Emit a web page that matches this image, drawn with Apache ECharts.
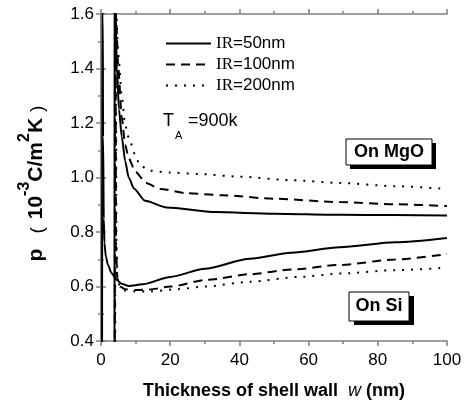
<!DOCTYPE html>
<html>
<head>
<meta charset="utf-8">
<script src="https://cdn.jsdelivr.net/npm/echarts@6/dist/echarts.min.js"></script>
<style>html,body{margin:0;padding:0;background:#fff}#c{width:466px;height:407px}</style>
</head>
<body>
<div id="c"></div>
<script>
// Thickness of shell wall w (nm) vs p (10^-3 C/m^2 K)
const legendNames = ['IR=50nm', 'IR=100nm', 'IR=200nm'];
const xTicks = [0, 20, 40, 60, 80, 100];
const yTicks = [0.4, 0.6, 0.8, 1.0, 1.2, 1.4, 1.6];

// On MgO curves (asymptote near w ~ 4)
const mgo50 = [[3.9,0.3],[3.95,1.7],[4.2,1.6],[4.6,1.4],[5.2,1.25],[6,1.15],[7,1.06],[8,1.0],[9.5,0.96],[12.7,0.915],[19,0.89],[33,0.873],[50,0.867],[69,0.863],[85,0.862],[100,0.861]];
const mgo100 = [[4.0,0.3],[4.05,1.7],[4.3,1.6],[5,1.4],[6,1.22],[7,1.12],[8,1.07],[10,1.02],[13,0.98],[17,0.958],[25,0.942],[35,0.935],[50,0.922],[69,0.91],[85,0.902],[100,0.895]];
const mgo200 = [[4.1,0.3],[4.15,1.7],[4.4,1.6],[5,1.45],[6,1.3],[7,1.19],[8.4,1.13],[10,1.08],[11.2,1.045],[14,1.025],[20,1.018],[28,1.013],[40,1.003],[55,0.99],[69,0.98],[85,0.968],[100,0.958]];

// On Si curves
const si50 = [[0.3,0.3],[0.4,1.7],[0.5,1.6],[0.6,1.15],[0.8,0.85],[1.0,0.76],[1.4,0.71],[2,0.68],[3,0.65],[4.6,0.624],[6,0.61],[8,0.602],[12,0.608],[20,0.635],[30,0.665],[43,0.702],[55,0.724],[69,0.744],[85,0.762],[100,0.778]];
const si100 = [[4.2,1.7],[4.35,0.75],[4.7,0.63],[5.5,0.6],[7,0.59],[10,0.587],[14,0.589],[20,0.6],[31,0.625],[43,0.645],[55,0.662],[69,0.679],[85,0.699],[100,0.719]];
const si200 = [[4.3,1.7],[4.45,0.75],[4.8,0.62],[5.5,0.6],[7,0.585],[10,0.582],[14,0.582],[22,0.59],[30,0.6],[43,0.617],[57,0.635],[70,0.648],[85,0.66],[100,0.669]];

const chart = echarts.init(document.getElementById('c'), null, {renderer: 'canvas'});
const axisColor = '#808080';
const grid = {left: 101, right: 19, top: 14, bottom: 66};
function lineSeries(name, data, type) {
  return {
    name: name, type: 'line', data: data, symbol: 'none',
    smooth: 0.25, smoothMonotone: 'x', clip: true, z: 3,
    itemStyle: {color: '#000'},
    lineStyle: {color: '#000', width: 2, type: type, cap: 'butt'}
  };
}
const dashed = [9, 6], dotted = [2, 7];
const labelFont = {fontFamily: 'Liberation Sans, Arial', fontSize: 17, color: '#000'};

chart.setOption({
  animation: false,
  backgroundColor: '#fff',
  grid: grid,
  legend: {
    data: legendNames,
    orient: 'vertical', left: 160, top: 30,
    itemWidth: 45, itemHeight: 14, itemGap: 4,
    itemStyle: {opacity: 0, borderWidth: 0},
    formatter: n => '{s|IR}{a|' + n.slice(2) + '}',
    textStyle: {
      rich: {
        s: {fontFamily: 'Liberation Serif', fontSize: 17, color: '#000'},
        a: {fontFamily: 'Liberation Sans', fontSize: 17, color: '#000'}
      }
    }
  },
  xAxis: [{
    type: 'value', min: 0, max: 100, interval: 20, position: 'bottom',
    axisLine: {show: true, lineStyle: {color: axisColor, width: 1.5}},
    axisTick: {show: true, inside: false, length: 5, lineStyle: {color: axisColor, width: 1.5}},
    minorTick: {show: true, splitNumber: 2, length: 3, lineStyle: {color: axisColor, width: 1.5}},
    splitLine: {show: false},
    axisLabel: Object.assign({margin: 11, formatter: v => xTicks.includes(v) ? String(v) : ''}, labelFont),
    name: '{b|Thickness of shell wall  }{i|w}{b| (nm)}',
    nameLocation: 'middle', nameGap: 41,
    nameTextStyle: {
      rich: {
        b: {fontFamily: 'Liberation Sans', fontSize: 18, fontWeight: 'bold', color: '#000'},
        i: {fontFamily: 'Liberation Sans', fontSize: 18, fontStyle: 'italic', color: '#000'}
      }
    }
  }, {
    type: 'value', min: 0, max: 100, interval: 20, position: 'top',
    axisLine: {show: true, lineStyle: {color: axisColor, width: 1.5}},
    axisTick: {show: true, inside: false, length: 5, lineStyle: {color: axisColor, width: 1.5}},
    minorTick: {show: true, splitNumber: 2, length: 3, lineStyle: {color: axisColor, width: 1.5}},
    splitLine: {show: false}, axisLabel: {show: false}
  }],
  yAxis: [{
    type: 'value', min: 0.4, max: 1.6, interval: 0.2, position: 'left',
    axisLine: {show: true, lineStyle: {color: axisColor, width: 1.5}},
    axisTick: {show: true, inside: false, length: 5, lineStyle: {color: axisColor, width: 1.5}},
    minorTick: {show: true, splitNumber: 2, length: 3, lineStyle: {color: axisColor, width: 1.5}},
    splitLine: {show: false},
    axisLabel: Object.assign({margin: 7, formatter: v => yTicks.some(t => Math.abs(t - v) < 1e-6) ? v.toFixed(1) : ''}, labelFont),
    name: '{b|p}{p|(}{b|10}{u|-3}{b|C/m}{u|2}{b|K}{q|)}',
    nameLocation: 'middle', nameGap: 54, nameRotate: 90,
    nameTextStyle: {
      rich: {
        b: {fontFamily: 'Liberation Sans', fontSize: 21, fontWeight: 'bold', color: '#000', lineHeight: 30, verticalAlign: 'bottom'},
        p: {fontFamily: 'Liberation Sans', fontSize: 19, color: '#000', lineHeight: 30, verticalAlign: 'bottom', padding: [0, 8, 0, 15]},
        q: {fontFamily: 'Liberation Sans', fontSize: 19, color: '#000', lineHeight: 30, verticalAlign: 'bottom', padding: [0, 12, 0, 6]},
        u: {fontFamily: 'Liberation Sans', fontSize: 16, fontWeight: 'bold', color: '#000', lineHeight: 30, verticalAlign: 'top'}
      }
    }
  }, {
    type: 'value', min: 0.4, max: 1.6, interval: 0.2, position: 'right',
    axisLine: {show: true, lineStyle: {color: axisColor, width: 1.5}},
    axisTick: {show: true, inside: false, length: 5, lineStyle: {color: axisColor, width: 1.5}},
    minorTick: {show: true, splitNumber: 2, length: 3, lineStyle: {color: axisColor, width: 1.5}},
    splitLine: {show: false}, axisLabel: {show: false}
  }],
  series: [
    lineSeries(legendNames[0], mgo50, 'solid'),
    lineSeries(legendNames[1], mgo100, dashed),
    lineSeries(legendNames[2], mgo200, dotted),
    lineSeries(legendNames[0], si50, 'solid'),
    lineSeries(legendNames[1], si100, dashed),
    lineSeries(legendNames[2], si200, dotted)
  ],
  graphic: [
    {type: 'text', left: 163, top: 112, style: {text: 'T', fontFamily: 'Liberation Sans', fontSize: 18, fill: '#000'}},
    {type: 'text', left: 175, top: 130, style: {text: 'A', fontFamily: 'Liberation Sans', fontSize: 11, fill: '#000'}},
    {type: 'text', left: 188, top: 112, style: {text: '=900k', fontFamily: 'Liberation Sans', fontSize: 18, fill: '#000'}},
    {type: 'rect', shape: {x: 350, y: 143, width: 86, height: 26}, style: {fill: '#000'}, z: 10},
    {type: 'rect', shape: {x: 346, y: 139, width: 86, height: 26}, style: {fill: '#fff', stroke: '#000', lineWidth: 1}, z: 11},
    {type: 'text', x: 389, y: 152, style: {text: 'On MgO', fontFamily: 'Liberation Sans', fontSize: 18, fontWeight: 'bold', fill: '#000', align: 'center', verticalAlign: 'middle'}, z: 12},
    {type: 'rect', shape: {x: 354, y: 296, width: 60, height: 29}, style: {fill: '#000'}, z: 10},
    {type: 'rect', shape: {x: 349, y: 292, width: 60, height: 29}, style: {fill: '#fff', stroke: '#000', lineWidth: 1}, z: 11},
    {type: 'text', x: 379, y: 306.5, style: {text: 'On Si', fontFamily: 'Liberation Sans', fontSize: 18, fontWeight: 'bold', fill: '#000', align: 'center', verticalAlign: 'middle'}, z: 12}
  ]
});
</script>
</body>
</html>
